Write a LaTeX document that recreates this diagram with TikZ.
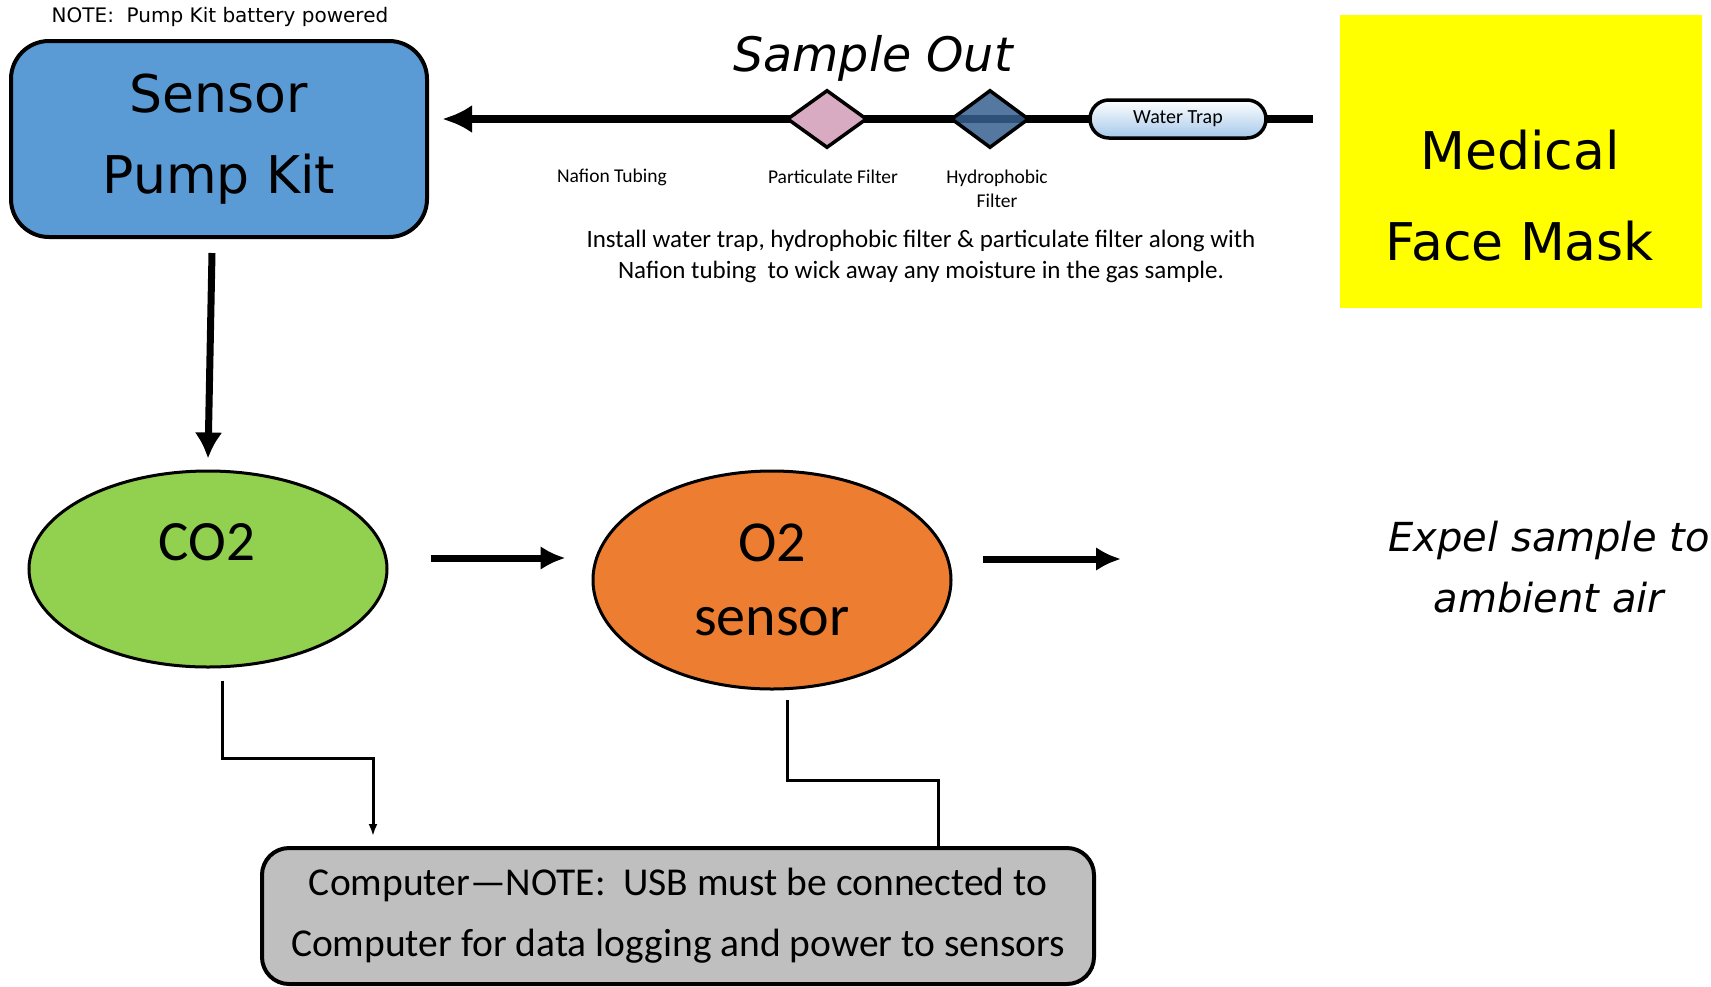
\documentclass[tikz,border=0pt]{standalone}
\usepackage{fontspec}
\setmainfont{Carlito}
\newfontfamily\verd{DejaVu Sans}
\usetikzlibrary{shapes.geometric,arrows.meta,backgrounds}
\definecolor{pumpblue}{HTML}{5B9BD5}
\definecolor{maskyellow}{HTML}{FFFF00}
\definecolor{co2green}{HTML}{92D050}
\definecolor{o2orange}{HTML}{ED7D31}
\definecolor{pcgray}{HTML}{BFBFBF}
\definecolor{particpink}{HTML}{D8ABC3}
\definecolor{hydroblue}{HTML}{36608F}
\definecolor{trapblue}{HTML}{A5C8EA}
\begin{document}
\begin{tikzpicture}[x=1pt,y=-1pt,>=latex,
  box/.style={draw, line width=4pt, rounded corners=#1},
  flow/.style={line width=7pt, -{Latex[length=25pt,width=24pt]}},
  wire/.style={line width=3pt},
  small/.style={font=\fontsize{19.5}{24}\selectfont, align=center}]
\useasboundingbox (0,0) rectangle (1711,986);

\node(Note)[font=\verd\fontsize{20}{24}\selectfont] at (220,17) {NOTE:\ \ Pump Kit battery powered};
\node(Pump)[box=38pt, fill=pumpblue, minimum width=416pt, minimum height=196pt, font=\verd\fontsize{52}{81}\selectfont, align=center] at (219,139) {Sensor\\Pump Kit};

\node(Mask)[fill=maskyellow, minimum width=362pt, minimum height=293pt] at (1521,161) {};
\node(MaskLbl)[font=\verd\fontsize{52}{91}\selectfont, align=center] at (1520,196) {Medical\\Face Mask};

% sample line
\node(SampleOut)[font=\verd\itshape\fontsize{47.5}{50}\selectfont] at (873,58) {Sample Out};
\node(Partic)[diamond, draw, line width=3.5pt, fill=particpink, minimum width=80pt, minimum height=58pt, inner sep=0pt] at (827,119) {};
\node(Hydro)[diamond, draw, line width=3.5pt, fill=hydroblue, fill opacity=.85, minimum width=78pt, minimum height=58pt, inner sep=0pt] at (990,119) {};
\node(Trap)[draw, line width=3.5pt, rounded corners=19pt, top color=white, bottom color=trapblue, minimum width=176pt, minimum height=38pt, font=\fontsize{20}{20}\selectfont] at (1178,119) {Water Trap};
\coordinate(TubeIn) at (1313,119);
\coordinate(TubeOut) at (442,119);
\begin{pgfonlayer}{background}
\draw[line width=8pt, -{Latex[length=30pt,width=28pt]}] (TubeIn) -- (Trap.center) -- (Hydro.center) -- (Partic.center) -- (TubeOut);
\end{pgfonlayer}

\node(NafLbl)[small] at (612,177) {Nafion Tubing};
\node(PartLbl)[small] at (833,177) {Particulate Filter};
\node(HydLbl)[small] at (997,189) {Hydrophobic\\Filter};
\node(Install)[font=\fontsize{25}{31}\selectfont, align=center] at (921,256) {Install water trap, hydrophobic filter \& particulate filter along with\\Nafion tubing\ \ to wick away any moisture in the gas sample.};

% sensors
\node(CO2)[ellipse, draw, line width=3pt, fill=co2green, minimum width=358pt, minimum height=196pt] at (208,569) {};
\node(CO2Lbl)[font=\fontsize{57}{60}\selectfont] at (207,542) {CO2};
\node(O2)[ellipse, draw, line width=3pt, fill=o2orange, minimum width=358pt, minimum height=218pt, font=\fontsize{58}{74}\selectfont, align=center] at (772,580) {O2\\sensor};
\node(Expel)[font=\verd\itshape\fontsize{40}{61}\selectfont, align=center] at (1549,567) {Expel sample to\\ambient air};
\coordinate(ExpelIn) at (1121,559);

\node(PC)[box=27pt, fill=pcgray, minimum width=832pt, minimum height=136pt, font=\fontsize{39.5}{61}\selectfont, align=center] at (678,916) {Computer---NOTE:\ \ USB must be connected to\\Computer for data logging and power to sensors};

\draw[line width=7pt, -{Latex[length=26pt,width=28pt]}] ([xshift=-7pt,yshift=-14pt]Pump.south) -- ([yshift=11pt]CO2.north);
\draw[flow] ([xshift=42pt,yshift=11pt]CO2.east) -- ([xshift=-26pt,yshift=22pt]O2.west);
\draw[flow] ([xshift=30pt,yshift=21pt]O2.east) -- (ExpelIn);

\draw[wire, -{Latex[length=12pt,width=9pt]}] ([xshift=14pt,yshift=-12pt]CO2.south) -- ++(0,78) -| ([xshift=-305pt,yshift=10pt]PC.north);
\draw[wire] ([xshift=15pt,yshift=-9pt]O2.south) -- ++(0,81) -| ([xshift=260pt]PC.north);
\end{tikzpicture}
\end{document}
